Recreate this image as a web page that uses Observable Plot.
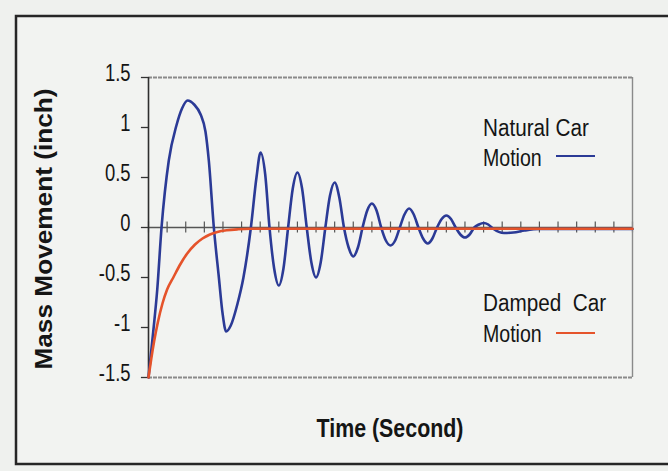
<!DOCTYPE html>
<html><head><meta charset="utf-8">
<script src="https://cdn.jsdelivr.net/npm/d3@7"></script>
<script src="https://cdn.jsdelivr.net/npm/@observablehq/plot@0.6"></script>
<style>
html,body{margin:0;padding:0;background:#eff1ee;}
#chart{width:668px;height:471px;overflow:hidden;}
</style></head><body><div id="chart"></div>
<script>
// Natural (undamped) car motion
const natTime = [0, 0.25, 0.47, 0.7, 1.09, 1.5, 1.8, 2.1, 2.45, 2.8, 3.06, 3.24, 3.51, 3.78, 3.98, 4.17, 4.42, 4.77, 5.1, 5.5, 5.8, 6.02, 6.27, 6.5, 6.75, 7.0, 7.25, 7.5, 7.75, 8.0, 8.25, 8.5, 8.75, 9.0, 9.25, 9.5, 9.75, 10.0, 10.25, 10.5, 10.75, 11.0, 11.25, 11.5, 11.75, 12.0, 12.25, 12.5, 12.75, 13.0, 13.25, 13.5, 13.75, 14.0, 14.25, 14.5, 14.75, 15.0, 15.25, 15.5, 15.75, 16.0, 16.25, 16.5, 16.75, 17.0, 17.25, 17.5, 17.75, 18.0, 18.25, 18.5, 19.1, 19.6, 20.2, 21, 26];
const natMove = [-1.5, -1.05, -0.62, 0, 0.67, 1.02, 1.19, 1.27, 1.23, 1.13, 0.96, 0.67, 0, -0.5, -0.86, -1.04, -0.98, -0.77, -0.5, 0, 0.5, 0.75, 0.53, 0, -0.41, -0.58, -0.41, 0, 0.39, 0.55, 0.39, 0, -0.35, -0.5, -0.35, 0, 0.32, 0.45, 0.3, 0, -0.2, -0.29, -0.2, 0, 0.17, 0.24, 0.17, 0, -0.13, -0.18, -0.13, 0, 0.13, 0.19, 0.13, 0, -0.11, -0.16, -0.11, 0, 0.085, 0.12, 0.085, 0, -0.07, -0.1, -0.07, 0, 0.03, 0.045, 0.03, -0.01, -0.055, -0.05, -0.03, -0.015, -0.015];
// Damped car motion
const dampTime = [0, 0.15, 0.3, 0.5, 0.75, 1.0, 1.36, 1.7, 2.08, 2.5, 2.9, 3.3, 3.7, 4.2, 4.8, 5.5, 26];
const dampMove = [-1.5, -1.31, -1.14, -0.95, -0.76, -0.62, -0.49, -0.37, -0.26, -0.17, -0.11, -0.07, -0.045, -0.028, -0.018, -0.013, -0.013];

const yTicks = [-1.5, -1, -0.5, 0, 0.5, 1, 1.5];
const yTickLabels = ["-1.5", "-1", "-0.5", "0", "0.5", "1", "1.5"];
const xTicks = [0,1,2,3,4,5,6,7,8,9,10,11,12,13,14,15,16,17,18,19,20,21,22,23,24,25,26];
const seriesLabels = [["Natural Car", "Motion"], ["Damped  Car", "Motion"]];
const seriesColors = ["#2b3a96", "#e5532b"];
const xTitle = "Time (Second)";
const yTitle = "Mass Movement (inch)";

const natural = natTime.map((t, i) => ({t, v: natMove[i]}));
const damped = dampTime.map((t, i) => ({t, v: dampMove[i]}));
const yTickData = yTicks.map((v, i) => ({v, label: yTickLabels[i]}));

const FONT = "'Liberation Sans', Arial, Helvetica, sans-serif";

const plot = Plot.plot({
  width: 668, height: 471,
  marginLeft: 148, marginRight: 36, marginTop: 77, marginBottom: 94,
  x: {domain: [0, 26], axis: null},
  y: {domain: [-1.5, 1.5], axis: null},
  style: {background: "transparent", fontFamily: FONT},
  marks: [
    Plot.ruleY([0], {x1: 0, x2: 26, stroke: "#555", strokeWidth: 1.3}),
    Plot.ruleX(xTicks, {x: d => d, y1: -0.055, y2: 0.055, stroke: "#555", strokeWidth: 1.2}),
    Plot.ruleY([1.5, -1.5], {x1: 0, x2: 26, stroke: "#8a8a8a", strokeWidth: 2.2, strokeDasharray: "4,1"}),
    Plot.ruleX([26], {stroke: "#8a8a8a", strokeWidth: 1.4}),
    Plot.ruleX([0], {stroke: "#2e2e2e", strokeWidth: 1.6}),
    Plot.ruleY(yTicks, {x1: -0.38, x2: 0, stroke: "#333", strokeWidth: 1.3}),
    Plot.text(yTickData, {x: 0, y: "v", text: "label", textAnchor: "end", dx: -18, dy: -4,
      fontSize: 23, fill: "#151515"}),
    Plot.line(natural, {x: "t", y: "v", stroke: seriesColors[0], strokeWidth: 2.6, curve: "monotone-x"}),
    Plot.line(damped, {x: "t", y: "v", stroke: seriesColors[1], strokeWidth: 2.6, curve: "monotone-x"})
  ]
});

document.getElementById("chart").append(plot);
const svg = d3.select(plot);

function squeeze(node, f) {
  const L = node.getComputedTextLength();
  node.setAttribute("textLength", (L * f).toFixed(1));
  node.setAttribute("lengthAdjust", "spacingAndGlyphs");
}

// outer frame
svg.insert("rect", ":first-child")
  .attr("x", 16).attr("y", 16).attr("width", 700).attr("height", 448)
  .attr("fill", "#f2f3f1").attr("stroke", "#262626").attr("stroke-width", 2.5);

// condense tick labels
svg.selectAll("g[aria-label='text'] text").each(function() { squeeze(this, 0.8); });

// x title
const xt = svg.append("text").attr("x", 390).attr("y", 437)
  .attr("text-anchor", "middle").attr("font-family", FONT).attr("font-weight", "bold")
  .attr("font-size", 25).attr("fill", "#151515").text(xTitle);
squeeze(xt.node(), 0.855);

// y title
const yt = svg.append("text").attr("transform", "translate(52,229) rotate(-90)")
  .attr("text-anchor", "middle").attr("font-family", FONT).attr("font-weight", "bold")
  .attr("font-size", 23).attr("fill", "#151515").text(yTitle);
squeeze(yt.node(), 1.14);

// legend
const legendPos = [{y1: 136, y2: 166, ly: 156}, {y1: 311, y2: 342, ly: 333}];
seriesLabels.forEach((lab, i) => {
  const p = legendPos[i];
  const g = svg.append("g").attr("font-family", FONT).attr("font-size", 23)
    .attr("fill", "#151515").attr("text-anchor", "start");
  const a = g.append("text").attr("x", 483).attr("y", p.y1).style("white-space", "pre").text(lab[0]);
  const b = g.append("text").attr("x", 483).attr("y", p.y2).text(lab[1]);
  squeeze(a.node(), 0.9); squeeze(b.node(), 0.85);
  g.append("line").attr("x1", 556).attr("x2", 595).attr("y1", p.ly).attr("y2", p.ly)
    .attr("stroke", seriesColors[i]).attr("stroke-width", 2.2);
});
</script></body></html>
